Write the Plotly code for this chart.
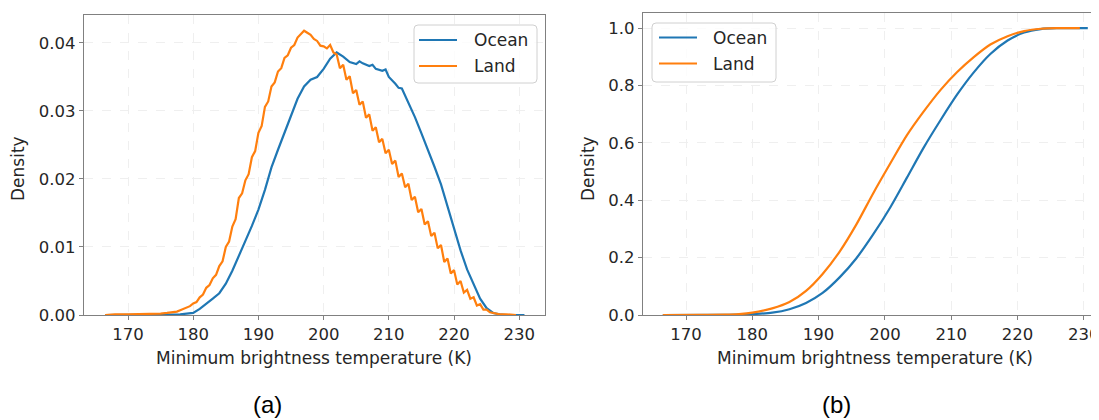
import plotly.graph_objects as go

# page body has an 8px default margin; the figure is sized so it ends at the window edge
OFF = 8
W, H = 1099 - OFF, 420 - OFF

# ---------------- data: panel (a) density ----------------
land_T = [166.5, 168, 170, 172, 174, 175, 176, 177, 177.5, 178, 178.5, 179, 179.5,
          180, 180.5, 181, 181.5, 182, 182.5, 183, 183.5, 184, 184.5, 185, 185.5,
          186, 186.5, 187, 187.5, 188, 188.5, 189, 189.5, 190, 190.5, 191, 191.5,
          192, 192.5, 193, 193.5, 194, 194.5, 195, 195.5, 196, 196.5, 197, 197.5,
          198, 198.5, 199, 199.5, 200, 200.5, 201, 201.5, 202, 202.5, 203, 203.5,
          204, 204.5, 205, 205.5, 206, 206.5, 207, 207.5, 208, 208.5, 209, 209.5,
          210, 210.5, 211, 211.5, 212, 212.5, 213, 213.5, 214, 214.5, 215, 215.5,
          216, 216.5, 217, 217.5, 218, 218.5, 219, 219.5, 220, 220.5, 221, 221.5,
          222, 222.5, 223, 223.5, 224, 224.5, 225, 225.5, 226, 226.5, 227, 228, 229.5]
land_D = [0.0000, 0.0001, 0.0001, 0.0001, 0.0002, 0.0002, 0.0003, 0.0004, 0.0005, 0.0007, 0.0009, 0.0011, 0.0013,
          0.0017, 0.0019, 0.0026, 0.0030, 0.0040, 0.0044, 0.0054, 0.0059, 0.0072, 0.0079, 0.0100, 0.0108,
          0.0130, 0.0141, 0.0172, 0.0179, 0.0198, 0.0207, 0.0232, 0.0241, 0.0268, 0.0278, 0.0306, 0.0314,
          0.0336, 0.0342, 0.0358, 0.0363, 0.0378, 0.0382, 0.0393, 0.0397, 0.0408, 0.0413, 0.0418, 0.0415,
          0.0412, 0.0406, 0.0403, 0.0396, 0.0395, 0.0392, 0.0397, 0.0386, 0.0383, 0.0363, 0.0368, 0.0346,
          0.0351, 0.0326, 0.0331, 0.0309, 0.0314, 0.0290, 0.0295, 0.0271, 0.0276, 0.0254, 0.0259, 0.0238,
          0.0243, 0.0222, 0.0227, 0.0203, 0.0208, 0.0188, 0.0193, 0.0169, 0.0174, 0.0151, 0.0156, 0.0133,
          0.0138, 0.0116, 0.0121, 0.0098, 0.0103, 0.0078, 0.0083, 0.0061, 0.0066, 0.0045, 0.0050, 0.0033,
          0.0037, 0.0024, 0.0026, 0.0014, 0.0016, 0.0008, 0.0008, 0.0004, 0.0003, 0.0002, 0.0001, 0.0001, 0.0000]

ocean_T = [166.5, 170, 175, 177, 178, 179, 180, 181, 182, 183, 184, 185, 186, 187, 188, 189,
           190, 191, 192, 193, 194, 195, 196, 197, 198, 199, 200, 201, 202, 203, 204, 205,
           205.5, 206, 207, 207.5, 208, 209, 209.5, 210, 211, 211.5, 212, 213, 214, 215, 216,
           217, 218, 219, 220, 221, 222, 223, 224, 225, 226, 227, 228, 230.8]
ocean_D = [0.0000, 0.0000, 0.0001, 0.0001, 0.0001, 0.0002, 0.0003, 0.0009, 0.0016, 0.0024, 0.0032, 0.0046,
           0.0065, 0.0088, 0.0109, 0.0131, 0.0155, 0.0184, 0.0217, 0.0243, 0.0267, 0.0293, 0.0318, 0.0336,
           0.0346, 0.0350, 0.0362, 0.0377, 0.0386, 0.0380, 0.0372, 0.0369, 0.0373, 0.0370, 0.0366, 0.0368,
           0.0362, 0.0359, 0.0361, 0.0350, 0.0340, 0.0334, 0.0333, 0.0313, 0.0291, 0.0267, 0.0243, 0.0218,
           0.0192, 0.0160, 0.0126, 0.0095, 0.0067, 0.0045, 0.0024, 0.0010, 0.0003, 0.0001, 0.0000, 0.0000]

# ---------------- data: panel (b) cumulative ----------------
land_cdf_T = [166.5, 172, 176, 178, 180, 183.0, 185.6, 188.1, 190.6, 193.2, 195.7, 198.2, 200.8,
              203.3, 205.8, 208.4, 210.9, 213.4, 215.9, 218.5, 221.0, 223.5, 226, 229.4]
land_cdf = [0.0, 0.0005, 0.001, 0.003, 0.008, 0.023, 0.045, 0.084, 0.143, 0.222, 0.316, 0.423, 0.528,
            0.626, 0.708, 0.785, 0.847, 0.899, 0.943, 0.972, 0.990, 0.998, 1.0, 1.0]
ocean_cdf_T = [166.5, 175, 178, 180, 183.0, 185.6, 188.1, 190.6, 193.2, 195.7, 198.2, 200.8, 203.3,
               205.8, 208.4, 210.9, 213.4, 215.9, 218.5, 221.0, 223.5, 226, 230.6]
ocean_cdf = [0.0, 0.0003, 0.001, 0.003, 0.008, 0.020, 0.042, 0.077, 0.132, 0.198, 0.280, 0.375, 0.478,
             0.582, 0.680, 0.769, 0.846, 0.910, 0.957, 0.985, 0.997, 1.0, 1.0]

series_names = ["Ocean", "Land"]
series_colors = ["#1f77b4", "#ff7f0e"]

x_ticks = [170, 180, 190, 200, 210, 220, 230]
x_labels = ["170", "180", "190", "200", "210", "220", "230"]
ya_ticks = [0.0, 0.01, 0.02, 0.03, 0.04]
ya_labels = ["0.00", "0.01", "0.02", "0.03", "0.04"]
yb_ticks = [0.0, 0.2, 0.4, 0.6, 0.8, 1.0]
yb_labels = ["0.0", "0.2", "0.4", "0.6", "0.8", "1.0"]

x_title = "Minimum brightness temperature (K)"
y_title = "Density"
panel_labels = ["(a)", "(b)"]


def px(x):
    return (x - OFF) / W


def py(y):
    return 1 - (y - OFF) / H


fig = go.Figure()
LW = 2.2
fig.add_trace(go.Scatter(x=ocean_T, y=ocean_D, mode="lines", name=series_names[0],
                         line=dict(color=series_colors[0], width=LW), xaxis="x", yaxis="y", showlegend=False))
fig.add_trace(go.Scatter(x=land_T, y=land_D, mode="lines", name=series_names[1],
                         line=dict(color=series_colors[1], width=LW), xaxis="x", yaxis="y", showlegend=False))
fig.add_trace(go.Scatter(x=ocean_cdf_T, y=ocean_cdf, mode="lines", name=series_names[0],
                         line=dict(color=series_colors[0], width=LW, shape="spline", smoothing=0.8),
                         xaxis="x2", yaxis="y2", showlegend=False))
fig.add_trace(go.Scatter(x=land_cdf_T, y=land_cdf, mode="lines", name=series_names[1],
                         line=dict(color=series_colors[1], width=LW, shape="spline", smoothing=0.8),
                         xaxis="x2", yaxis="y2", showlegend=False))

TXT = "#262626"
SPINE = "#808080"
tickfont = dict(family="DejaVu Sans", size=16.5, color=TXT)
common = dict(showline=True, linecolor=SPINE, linewidth=1.3, ticks="outside", ticklen=4,
              tickcolor=SPINE, tickwidth=1, showgrid=True, gridcolor="#efefef", griddash="dash",
              gridwidth=1, zeroline=False, tickfont=tickfont, automargin=False,
              ticklabeloverflow="allow")

fig.update_layout(
    width=W, height=H, margin=dict(l=0, r=0, t=0, b=0, autoexpand=False),
    paper_bgcolor="white", plot_bgcolor="white", showlegend=False,
    xaxis=dict(domain=[px(84), px(545)], range=[163.25, 233.95], tickvals=x_ticks, ticktext=x_labels,
               mirror=True, anchor="y", **common),
    yaxis=dict(domain=[py(315), py(15.3)], range=[0, 0.04407], tickvals=ya_ticks, ticktext=ya_labels,
               mirror=True, anchor="x", **common),
    xaxis2=dict(domain=[px(643), 1.0], range=[163.51, 232.29], tickvals=x_ticks, ticktext=x_labels,
                mirror=True, anchor="y2", **common),
    yaxis2=dict(domain=[py(315), py(13)], range=[0, 1.053], tickvals=yb_ticks, ticktext=yb_labels,
                mirror=False, anchor="x2", **common),
)

annots = []
lab_font = dict(family="DejaVu Sans", size=17, color=TXT)
annots.append(dict(text=y_title, x=px(18), y=py(169), xref="paper", yref="paper", textangle=-90,
                   showarrow=False, font=lab_font, xanchor="center", yanchor="middle"))
annots.append(dict(text=y_title, x=px(588), y=py(169), xref="paper", yref="paper", textangle=-90,
                   showarrow=False, font=lab_font, xanchor="center", yanchor="middle"))
annots.append(dict(text=x_title, x=px(314), y=py(358), xref="paper", yref="paper",
                   showarrow=False, font=lab_font, xanchor="center", yanchor="middle"))
annots.append(dict(text=x_title, x=px(875), y=py(358), xref="paper", yref="paper",
                   showarrow=False, font=lab_font, xanchor="center", yanchor="middle"))
pfont = dict(family="Liberation Sans, Arial", size=24, color="black")
annots.append(dict(text=panel_labels[0], x=px(267), y=py(404), xref="paper", yref="paper",
                   showarrow=False, font=pfont, xanchor="center", yanchor="middle"))
annots.append(dict(text=panel_labels[1], x=px(836), y=py(404), xref="paper", yref="paper",
                   showarrow=False, font=pfont, xanchor="center", yanchor="middle"))

shapes = []


def rounded_box(x0, y0, x1, y1, r=4):
    rx, ry = r / W, r / H
    X0, X1 = px(x0), px(x1)
    Y0, Y1 = py(y0), py(y1)  # Y0 top, Y1 bottom
    path = (f"M {X0+rx},{Y0} L {X1-rx},{Y0} Q {X1},{Y0} {X1},{Y0-ry} "
            f"L {X1},{Y1+ry} Q {X1},{Y1} {X1-rx},{Y1} L {X0+rx},{Y1} Q {X0},{Y1} {X0},{Y1+ry} "
            f"L {X0},{Y0-ry} Q {X0},{Y0} {X0+rx},{Y0} Z")
    return dict(type="path", path=path, xref="paper", yref="paper",
                line=dict(color="#d0d0d0", width=1), fillcolor="rgba(255,255,255,0.8)", layer="above")


legend_specs = [
    # box, line x0, x1, text x, row ys
    ((414, 25, 537, 83), 419, 457, 472, [40, 66]),
    ((652, 23, 776, 82), 659, 697, 711, [37.5, 63.5]),
]
for box, lx0, lx1, tx, ys in legend_specs:
    shapes.append(rounded_box(*box))
    for name, color, yy in zip(series_names, series_colors, ys):
        shapes.append(dict(type="line", xref="paper", yref="paper", x0=px(lx0), x1=px(lx1),
                           y0=py(yy), y1=py(yy), line=dict(color=color, width=LW), layer="above"))
        annots.append(dict(text=name, x=px(tx), y=py(yy), xref="paper", yref="paper",
                           showarrow=False, font=lab_font, xanchor="left", yanchor="middle"))

fig.update_layout(annotations=annots, shapes=shapes)
fig.write_html("out.html")
